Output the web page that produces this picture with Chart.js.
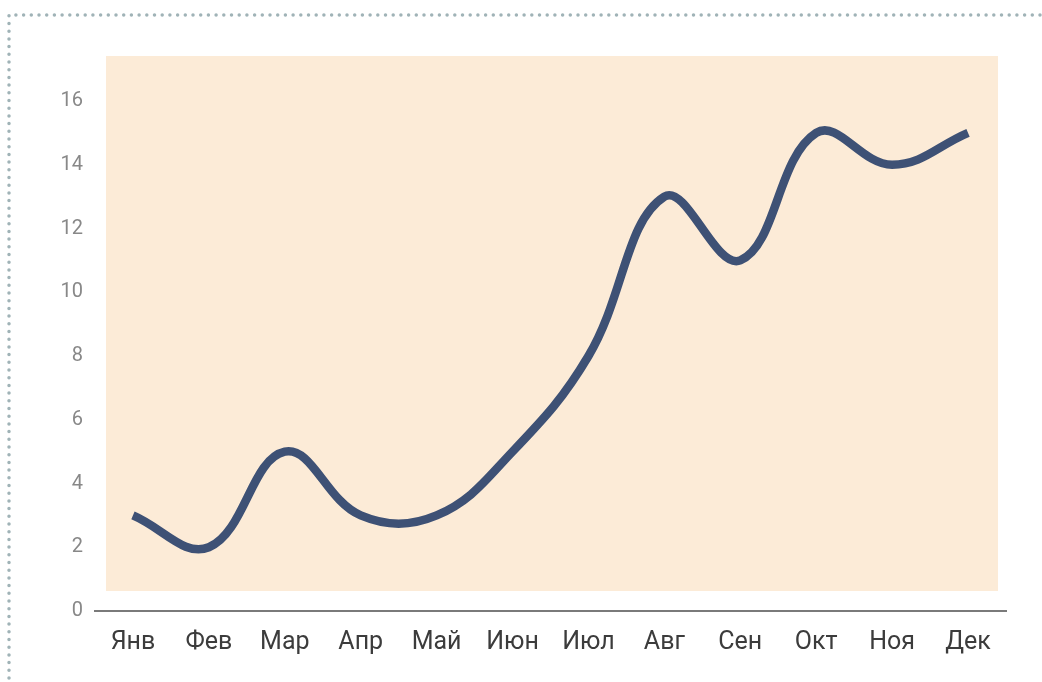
<!DOCTYPE html>
<html>
<head>
<meta charset="utf-8">
<script src="https://cdn.jsdelivr.net/npm/chart.js@4.4.1/dist/chart.umd.min.js"></script>
<style>
  html, body { margin: 0; padding: 0; background: #fff; }
  #wrap { width: 1042px; height: 682px; position: relative; }
</style>
</head>
<body>
<div id="wrap"><canvas id="chart" width="1042" height="682"></canvas></div>
<script>
'use strict';

const MONTHS = ['Янв', 'Фев', 'Мар', 'Апр', 'Май', 'Июн', 'Июл', 'Авг', 'Сен', 'Окт', 'Ноя', 'Дек'];
const VALUES = [3, 2, 5, 3, 3, 5, 8, 13, 11, 15, 14, 15];
const Y_TICKS = [0, 2, 4, 6, 8, 10, 12, 14, 16];

const LINE_COLOR = '#3e5175';
const PANEL_COLOR = '#fcebd7';

// peach panel behind the line and dotted frame of the card
const decor = {
  id: 'decor',
  beforeDraw(chart) {
    const { ctx, chartArea: a } = chart;
    ctx.save();
    ctx.strokeStyle = '#a0b3b7';
    ctx.lineWidth = 3.5;
    ctx.lineCap = 'round';
    ctx.setLineDash([0, 7.7]);
    ctx.beginPath();
    ctx.moveTo(1040, 15);
    ctx.lineTo(9, 15);
    ctx.lineTo(9, 682);
    ctx.stroke();
    ctx.restore();

    ctx.save();
    ctx.fillStyle = PANEL_COLOR;
    ctx.fillRect(a.left + 11, 56, a.right - a.left - 19, 535);
    ctx.restore();
  }
};

new Chart(document.getElementById('chart'), {
  type: 'line',
  data: {
    labels: MONTHS,
    datasets: [{
      data: VALUES,
      borderColor: LINE_COLOR,
      borderWidth: 8.5,
      tension: 0.4,
      pointRadius: 0,
      fill: false
    }]
  },
  options: {
    responsive: false,
    animation: false,
    layout: { padding: { left: 0, right: 36, top: 58, bottom: 0 } },
    plugins: { legend: { display: false }, tooltip: { enabled: false } },
    scales: {
      x: {
        offset: true,
        grid: { display: false, drawTicks: false },
        border: { display: true, color: '#7a7a7a', width: 2 },
        ticks: { color: '#3c3c3c', padding: 17, font: { family: 'Roboto', size: 25 } },
        afterFit: s => { s.height = 71; }
      },
      y: {
        min: 0,
        max: 17.35,
        grid: { display: false, drawTicks: false },
        border: { display: false },
        afterBuildTicks: s => { s.ticks = Y_TICKS.map(v => ({ value: v })); },
        ticks: { color: '#888', padding: 12, font: { family: 'Roboto', size: 20 } },
        afterFit: s => { s.width = 95; }
      }
    }
  },
  plugins: [decor]
});
</script>
</body>
</html>
